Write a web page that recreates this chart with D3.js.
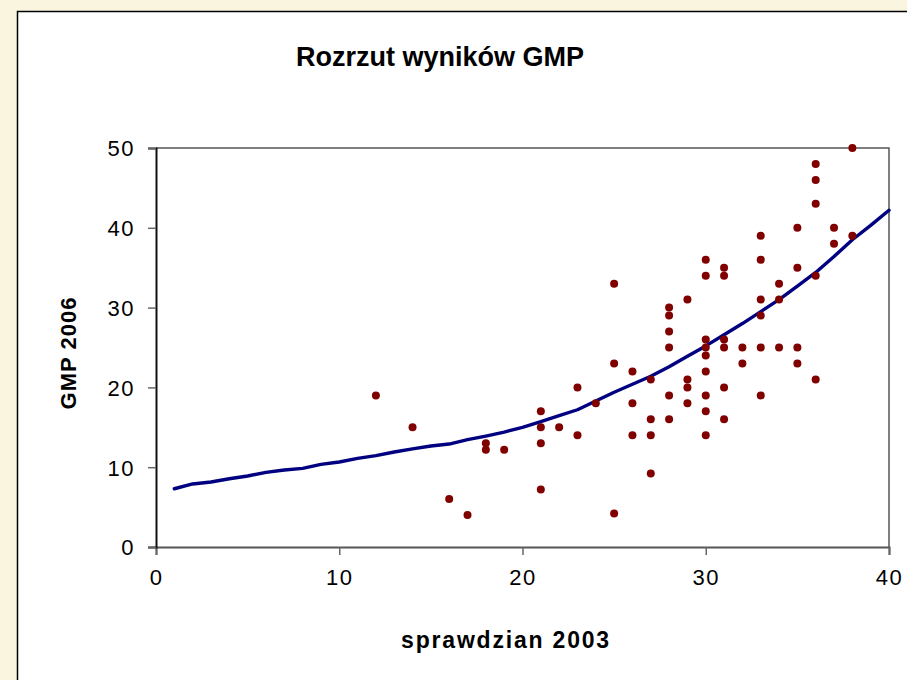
<!DOCTYPE html>
<html>
<head>
<meta charset="utf-8">
<script src="https://cdn.jsdelivr.net/npm/d3@7"></script>
<style>
  html, body { margin: 0; padding: 0; background: #FAF5DE; }
  svg { display: block; }
  text { font-family: "Liberation Sans", Arial, sans-serif; }
</style>
</head>
<body>
<svg id="chart" width="907" height="680"></svg>
<script>
// Wyniki uczniów: sprawdzian 2003 (x) i GMP 2006 (y)
const sprawdzian = [12,14,16,17,18,18,19,21,21,21,21,22,23,23,24,25,25,25,26,26,26,27,27,27,27,
  28,28,28,28,28,28,29,29,29,29,30,30,30,30,30,30,30,30,30,31,31,31,31,31,31,32,32,
  33,33,33,33,33,33,34,34,34,35,35,35,35,36,36,36,36,36,37,37,38,38];
const gmp = [19,15,6,4,13,12.2,12.2,17,15,13,7.2,15,20,14,18,33,23,4.2,22,18,14,21,16,14,9.2,
  30,29,27,25,19,16,31,21,20,18,36,34,26,25,24,22,19,17,14,35,34,26,25,20,16,25,23,
  39,36,31,29,25,19,33,31,25,40,35,25,23,48,46,43,34,21,40,38,50,39];

// Linia trendu
const trendX = d3.range(1, 41);
const trendY = [7.3,7.9,8.15,8.55,8.9,9.35,9.65,9.85,10.35,10.65,11.1,11.45,11.9,12.3,12.65,12.9,
  13.45,13.9,14.4,15.0,15.7,16.45,17.2,18.3,19.4,20.4,21.4,22.6,23.9,25.2,26.6,28.0,29.5,31.0,
  32.7,34.4,36.4,38.5,40.3,42.2];

const xTicks = [0,10,20,30,40];
const yTicks = [0,10,20,30,40,50];

const title = "Rozrzut wyników GMP";
const xTitle = "sprawdzian 2003";
const yTitle = "GMP 2006";

const svg = d3.select("#chart");
const W = 907, H = 680;
const plot = { left: 156, top: 148, right: 889, bottom: 547 };

// white chart area with black frame
svg.append("rect")
  .attr("x", 17.5).attr("y", 11.5)
  .attr("width", W).attr("height", H)
  .attr("fill", "#ffffff").attr("stroke", "#000").attr("stroke-width", 1.5);

const x = d3.scaleLinear().domain([0, 40]).range([plot.left, plot.right]);
const y = d3.scaleLinear().domain([0, 50]).range([plot.bottom, plot.top]);

// plot area frame (top and right)
svg.append("path")
  .attr("d", `M${plot.left},${plot.top}H${plot.right}V${plot.bottom}`)
  .attr("fill", "none").attr("stroke", "#555").attr("stroke-width", 1.5);

// axes
const xAxis = svg.append("g")
  .attr("transform", `translate(0,${plot.bottom})`)
  .call(d3.axisBottom(x).tickValues(xTicks).tickSize(8).tickPadding(14).tickFormat(d3.format("d")));
const yAxis = svg.append("g")
  .attr("transform", `translate(${plot.left},0)`)
  .call(d3.axisLeft(y).tickValues(yTicks).tickSize(8).tickPadding(13).tickFormat(d3.format("d")));

xAxis.select(".domain").attr("stroke", "#555").attr("stroke-width", 2);
yAxis.select(".domain").attr("stroke", "#111").attr("stroke-width", 2);
svg.selectAll(".tick line").attr("stroke", "#666").attr("stroke-width", 1.5);
svg.selectAll(".tick text")
  .attr("fill", "#000")
  .style("font-size", "22px")
  .style("letter-spacing", "1.5px")
  .style("font-family", "'Liberation Sans', Arial, sans-serif");
yAxis.selectAll(".tick text").attr("dy", "0.36em");

// trend line
const line = d3.line().x((d, i) => x(trendX[i])).y(d => y(d));
svg.append("path")
  .datum(trendY)
  .attr("d", line)
  .attr("fill", "none")
  .attr("stroke", "#000080")
  .attr("stroke-width", 3.4)
  .attr("stroke-linejoin", "round")
  .attr("stroke-linecap", "round");

// scatter points
svg.append("g").selectAll("circle")
  .data(sprawdzian)
  .join("circle")
  .attr("cx", d => x(d))
  .attr("cy", (d, i) => y(gmp[i]))
  .attr("r", 4)
  .attr("fill", "#800000");

// titles
svg.append("text")
  .attr("x", 440).attr("y", 66)
  .attr("text-anchor", "middle")
  .style("font-size", "27px").style("font-weight", "bold")
  .text(title);

svg.append("text")
  .attr("x", 506).attr("y", 648)
  .attr("text-anchor", "middle")
  .style("font-size", "23px").style("font-weight", "bold")
  .style("letter-spacing", "1.8px")
  .text(xTitle);

svg.append("text")
  .attr("transform", `translate(76,353) rotate(-90)`)
  .attr("text-anchor", "middle")
  .style("font-size", "22px").style("font-weight", "bold")
  .style("letter-spacing", "1px")
  .text(yTitle);
</script>
</body>
</html>
